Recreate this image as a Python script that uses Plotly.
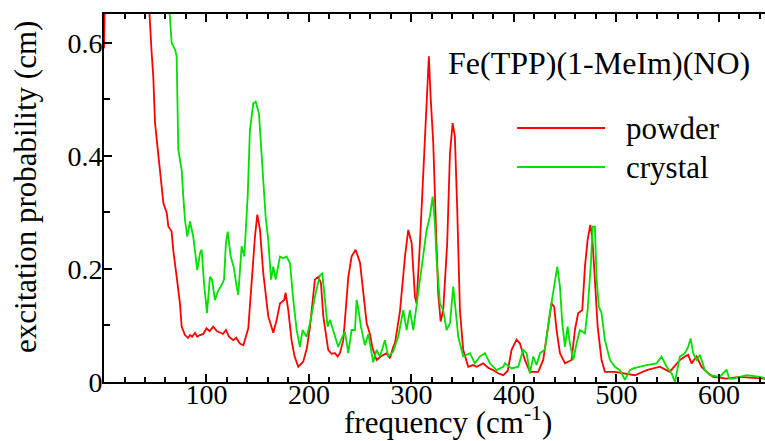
"""Nuclear resonance vibrational spectrum: powder vs crystal excitation probability."""

import plotly.graph_objects as go

POWDER_FREQ = [
    0, 3, 40, 44.2, 46.5, 48.1, 49.8, 53, 56.3, 57.9, 61.2, 62.8, 66, 67.6, 70.9,
    74.1, 75.8, 79, 82, 84, 86, 88.8, 91, 93.7, 97, 100, 103, 106.6, 110, 113,
    116, 119, 122, 126, 129, 132.6, 136, 140.8, 144, 147.3, 149.6, 152.2, 155.4,
    160.3, 165.2, 168.5, 171.7, 175.9, 177.2, 179.8, 183, 186, 189.6, 194.4, 198,
    201, 205.8, 209, 211.7, 214, 218.8, 222, 225.4, 228, 230.2, 233.5, 236, 238.4,
    241.6, 245.5, 249.8, 253, 256.3, 259.5, 262, 266, 270, 275.8, 279, 282.2, 284,
    288.8, 293.7, 296.9, 300.2, 303.4, 305, 308.3, 310.9, 313.2, 315.4, 317, 318.7,
    321.3, 323.9, 326.1, 328.5, 331, 334.9, 337.6, 340.2, 342.4, 344.7, 347.3,
    350.5, 355.4, 360, 363.6, 370, 375, 379.8, 385, 389.6, 394, 397.7, 402.6,
    405.9, 410.7, 415.6, 423.7, 428.6, 433.5, 436.7, 439.3, 441.6, 444.9, 449.8,
    456.3, 459.5, 462.7, 466.7, 469.3, 471.9, 474.5, 476.4, 479, 481.7, 485.5,
    488.8, 498.5, 508.3, 518, 529.5, 542.4, 552, 562, 566.8, 570, 573.3, 578.2,
    583, 588, 594.4, 607.5, 620.5, 640, 650,
]
POWDER_PROB = [
    0.59, 0.9, 0.9, 0.658, 0.582, 0.54, 0.458, 0.405, 0.352, 0.317, 0.299, 0.275,
    0.266, 0.233, 0.186, 0.139, 0.098, 0.083, 0.078, 0.083, 0.08, 0.087, 0.08,
    0.083, 0.085, 0.095, 0.09, 0.098, 0.09, 0.087, 0.085, 0.092, 0.08, 0.074,
    0.078, 0.068, 0.065, 0.095, 0.18, 0.257, 0.296, 0.269, 0.193, 0.116, 0.087,
    0.11, 0.139, 0.145, 0.158, 0.127, 0.074, 0.045, 0.027, 0.036, 0.06, 0.098,
    0.181, 0.186, 0.175, 0.116, 0.057, 0.05, 0.051, 0.045, 0.051, 0.074, 0.13,
    0.186, 0.222, 0.234, 0.211, 0.158, 0.104, 0.085, 0.06, 0.039, 0.045, 0.051,
    0.042, 0.062, 0.069, 0.125, 0.222, 0.269, 0.246, 0.151, 0.139, 0.246, 0.346,
    0.452, 0.54, 0.576, 0.505, 0.422, 0.275, 0.157, 0.107, 0.127, 0.246, 0.405,
    0.458, 0.434, 0.304, 0.127, 0.057, 0.027, 0.03, 0.027, 0.033, 0.025, 0.021,
    0.015, 0.012, 0.02, 0.057, 0.075, 0.068, 0.039, 0.018, 0.018, 0.039, 0.104,
    0.139, 0.133, 0.092, 0.051, 0.033, 0.039, 0.092, 0.122, 0.127, 0.204, 0.251,
    0.278, 0.257, 0.181, 0.098, 0.039, 0.018, 0.018, 0.015, 0.012, 0.021, 0.027,
    0.018, 0.039, 0.045, 0.048, 0.033, 0.045, 0.027, 0.018, 0.009, 0.006, 0.009,
    0.006, 0.005,
]

CRYSTAL_FREQ = [
    55, 64.4, 66, 69.3, 70.9, 72.5, 75.8, 77.4, 79, 81.3, 83.9, 87.1, 91, 93.7,
    95.3, 97.6, 100.5, 103.4, 105.4, 108.3, 111, 114, 117.1, 119, 120.7, 123.6,
    126.5, 129.4, 131, 134.3, 136.9, 140.2, 142.4, 145.7, 148, 151.2, 154.5,
    157.7, 160.3, 163, 165.2, 167.5, 171.7, 175, 178.2, 181.5, 184.7, 188, 191.2,
    193.8, 197.7, 201, 205.8, 210.7, 213, 215.6, 218.2, 220.5, 223.7, 228.6,
    231.9, 235.1, 238.4, 241.6, 244.9, 246.5, 248.1, 250.7, 254.6, 257.9, 261.1,
    262.7, 266, 269.3, 274.1, 277.4, 282.2, 287.1, 292, 295.3, 298.5, 301.8,
    306.6, 311.5, 314.8, 318, 320.7, 322.9, 324.6, 327.8, 331, 334.3, 337.6,
    340.8, 343.4, 345.7, 350.5, 357.1, 361.9, 366.8, 371.7, 376.6, 383, 389.6,
    391.2, 397.7, 404.2, 409, 412.4, 415.6, 418.8, 422.1, 425.4, 430.2, 435.1,
    440, 442.3, 444.9, 447.2, 449.8, 452.4, 454.6, 457.9, 461.1, 464.4, 469.3,
    471.9, 475.1, 476.8, 479, 480.7, 482.9, 485.5, 488.8, 493.7, 498.5, 503.4,
    508.3, 513.2, 516.4, 529.5, 539.2, 544, 549, 553.9, 557.1, 562, 566.8, 570,
    572.4, 574.9, 578.2, 581.5, 586.3, 591.2, 600.9, 607.5, 610, 614, 627, 640, 650,
]
CRYSTAL_PROB = [
    0.9, 0.658, 0.6, 0.588, 0.576, 0.411, 0.375, 0.328, 0.287, 0.257, 0.284,
    0.257, 0.198, 0.228, 0.234, 0.175, 0.122, 0.186, 0.181, 0.145, 0.16, 0.169,
    0.181, 0.246, 0.266, 0.222, 0.204, 0.169, 0.154, 0.24, 0.222, 0.328, 0.446,
    0.493, 0.496, 0.475, 0.375, 0.293, 0.251, 0.181, 0.204, 0.181, 0.222, 0.219,
    0.222, 0.21, 0.145, 0.092, 0.062, 0.092, 0.08, 0.104, 0.151, 0.189, 0.192,
    0.139, 0.098, 0.11, 0.092, 0.062, 0.077, 0.089, 0.051, 0.092, 0.092, 0.145,
    0.13, 0.098, 0.065, 0.085, 0.051, 0.035, 0.057, 0.045, 0.074, 0.045, 0.054,
    0.08, 0.127, 0.092, 0.127, 0.092, 0.157, 0.222, 0.269, 0.293, 0.328, 0.281,
    0.216, 0.139, 0.127, 0.092, 0.104, 0.169, 0.127, 0.08, 0.045, 0.051, 0.033,
    0.045, 0.051, 0.033, 0.021, 0.027, 0.033, 0.024, 0.027, 0.057, 0.051, 0.015,
    0.045, 0.03, 0.051, 0.057, 0.122, 0.181, 0.204, 0.169, 0.104, 0.062, 0.098,
    0.068, 0.039, 0.068, 0.092, 0.086, 0.127, 0.21, 0.275, 0.275, 0.181, 0.133,
    0.122, 0.074, 0.039, 0.027, 0.021, 0.004, 0.021, 0.024, 0.03, 0.033, 0.045,
    0.027, 0.015, 0.0, 0.045, 0.051, 0.062, 0.077, 0.051, 0.039, 0.048, 0.021,
    0.012, 0.009, 0.022, 0.006, 0.006, 0.012, 0.009, 0.004,
]

X_TICKS = [100, 200, 300, 400, 500, 600]
Y_TICKS = [0, 0.2, 0.4, 0.6]
Y_TICK_LABELS = ["0", "0.2", "0.4", "0.6"]

SERIES = [
    ("powder", POWDER_FREQ, POWDER_PROB, "#ff0000"),
    ("crystal", CRYSTAL_FREQ, CRYSTAL_PROB, "#00e000"),
]

FONT = "Liberation Serif, Times New Roman, serif"
TEXT_SIZE = 31

fig = go.Figure()
for name, freq, prob, color in SERIES:
    fig.add_trace(
        go.Scatter(
            x=freq,
            y=prob,
            mode="lines",
            name=name,
            line={"color": color, "width": 1.8},
            showlegend=False,
        )
    )

# hand-drawn legend, long line samples like the original
for i, (name, _, _, color) in enumerate(SERIES):
    ly = 0.69 - i * 0.106
    fig.add_shape(
        type="line", xref="paper", yref="paper",
        x0=0.625, x1=0.758, y0=ly, y1=ly,
        line={"color": color, "width": 2},
    )
    fig.add_annotation(
        text=name, xref="paper", yref="paper", x=0.786, y=ly,
        xanchor="left", yanchor="middle", showarrow=False,
        font={"size": TEXT_SIZE, "color": "black", "family": FONT},
    )

fig.add_annotation(
    text="Fe(TPP)(1-MeIm)(NO)", xref="paper", yref="paper", x=0.518, y=0.867,
    xanchor="left", yanchor="middle", showarrow=False,
    font={"size": 32, "color": "black", "family": FONT},
)

# axis titles placed by hand: the original packs them tight against the ticks
fig.add_annotation(
    text="frequency (cm<sup>-1</sup>)", xref="paper", yref="paper", x=0.52, y=0,
    xanchor="center", yanchor="middle", yshift=-38, showarrow=False,
    font={"size": TEXT_SIZE, "color": "black", "family": FONT},
)
fig.add_annotation(
    text="excitation probability (cm)", xref="paper", yref="paper", x=0, y=0.53,
    xanchor="center", yanchor="middle", xshift=-78, textangle=-90,
    showarrow=False,
    font={"size": TEXT_SIZE, "color": "black", "family": FONT},
)

axis_common = {
    "showline": True,
    "linecolor": "black",
    "linewidth": 2,
    "showgrid": False,
    "zeroline": False,
    "ticks": "inside",
    "tickcolor": "black",
    "tickwidth": 2,
    "ticklen": 8,
    "tickfont": {"size": 28, "color": "black", "family": FONT},
}

fig.update_layout(
    width=765,
    height=441,
    margin={"l": 104, "r": 0, "t": 14, "b": 59},
    plot_bgcolor="white",
    paper_bgcolor="white",
    font={"family": FONT, "color": "black"},
    xaxis={
        **axis_common,
        "range": [0, 645],
        "tickvals": X_TICKS,
        "mirror": "ticks",
        "ticklabelstandoff": -14,
        "minor": {"dtick": 20, "ticks": "inside", "ticklen": 5,
                  "tickcolor": "black", "tickwidth": 2},
    },
    yaxis={
        **axis_common,
        "range": [0, 0.651],
        "tickvals": Y_TICKS,
        "ticktext": Y_TICK_LABELS,
        "ticklabelstandoff": -6,
        "minor": {"dtick": 0.1, "ticks": "inside", "ticklen": 6,
                  "tickcolor": "black", "tickwidth": 2},
    },
)

fig.write_html(
    "out.html",
    config={"displayModeBar": False},
    post_script="document.body.style.margin = '0';",
)
